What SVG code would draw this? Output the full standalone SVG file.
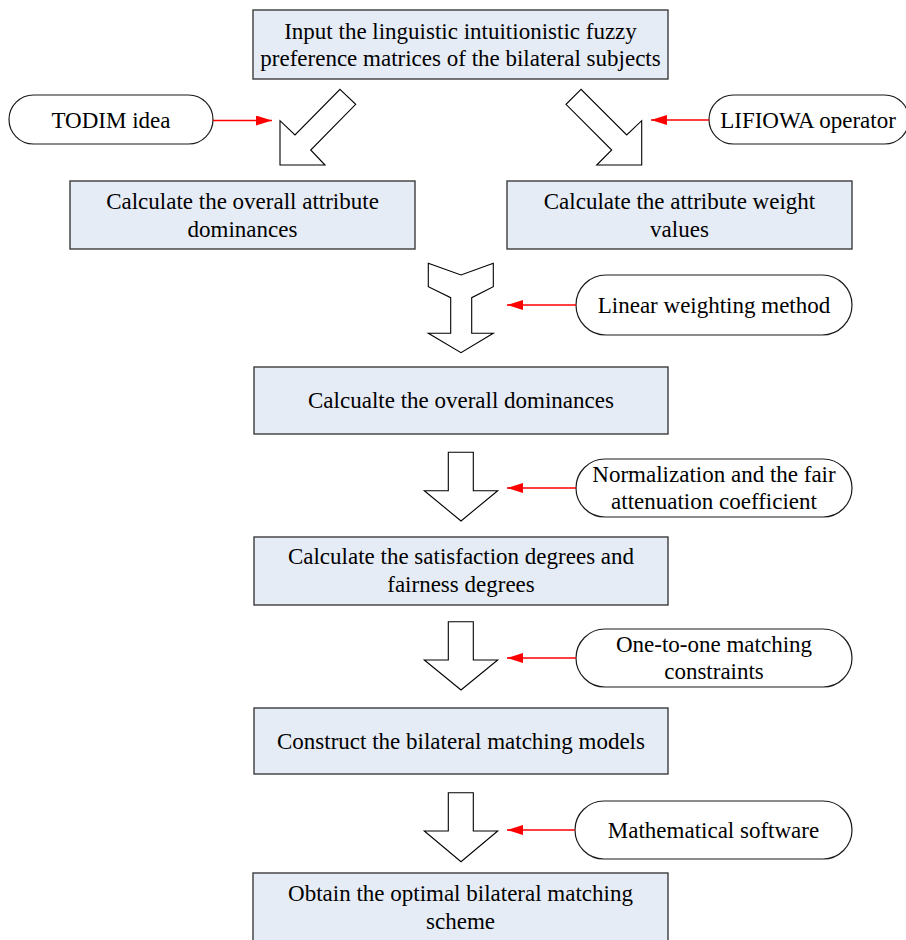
<svg xmlns="http://www.w3.org/2000/svg" width="906" height="940" viewBox="0 0 906 940">
<defs>
<marker id="rh" markerUnits="userSpaceOnUse" markerWidth="16" markerHeight="10" refX="16" refY="5" orient="auto">
<path d="M0,0 L16,5 L0,10 Z" fill="#FF0000"/>
</marker>
<style>
.box{fill:#E6ECF6;stroke:#3C3C3C;stroke-width:1.4}
.pill{fill:#FFFFFF;stroke:#1A1A1A;stroke-width:1.2}
.blk{fill:#FFFFFF;stroke:#000000;stroke-width:1.1;stroke-linejoin:miter}
.red{stroke:#FF0000;stroke-width:1.3;fill:none}
text{font-family:"Liberation Serif","Times New Roman",serif;font-size:23px;fill:#000;text-anchor:middle}
</style>
</defs>
<rect width="906" height="940" fill="#FFFFFF"/>

<g id="n_input">
<rect class="box" x="253" y="10" width="415" height="69"/>
<text x="460.5" y="39">Input the linguistic intuitionistic fuzzy</text>
<text x="460.5" y="66">preference matrices of the bilateral subjects</text>
</g>

<g id="n_todim">
<rect class="pill" x="9" y="95" width="204" height="49" rx="24.5" ry="24.5"/>
<text x="111" y="128">TODIM idea</text>
</g>

<g id="n_lifiowa">
<rect class="pill" x="709" y="95" width="200" height="49" rx="24.5" ry="24.5"/>
<text x="808" y="128">LIFIOWA operator</text>
</g>

<g id="n_attrdom">
<rect class="box" x="70" y="181" width="345" height="68"/>
<text x="242.5" y="209">Calculate the overall attribute</text>
<text x="242.5" y="237">dominances</text>
</g>

<g id="n_weight">
<rect class="box" x="507" y="181" width="345" height="68"/>
<text x="679.5" y="209">Calculate the attribute weight</text>
<text x="679.5" y="237">values</text>
</g>

<g id="n_linear">
<rect class="pill" x="576" y="275" width="276" height="60" rx="30" ry="30"/>
<text x="714" y="313">Linear weighting method</text>
</g>

<g id="n_overall">
<rect class="box" x="254" y="367" width="414" height="67"/>
<text x="461" y="408">Calcualte the overall dominances</text>
</g>

<g id="n_norm">
<rect class="pill" x="576" y="459" width="276" height="58" rx="29" ry="29"/>
<text x="714" y="482">Normalization and the fair</text>
<text x="714" y="509">attenuation coefficient</text>
</g>

<g id="n_satis">
<rect class="box" x="254" y="537" width="414" height="68"/>
<text x="461" y="564">Calculate the satisfaction degrees and</text>
<text x="461" y="592">fairness degrees</text>
</g>

<g id="n_onetoone">
<rect class="pill" x="576" y="629" width="276" height="58" rx="29" ry="29"/>
<text x="714" y="652">One-to-one matching</text>
<text x="714" y="679">constraints</text>
</g>

<g id="n_construct">
<rect class="box" x="254" y="708" width="414" height="66"/>
<text x="461" y="749">Construct the bilateral matching models</text>
</g>

<g id="n_math">
<rect class="pill" x="575" y="801" width="277" height="58" rx="29" ry="29"/>
<text x="713.5" y="838">Mathematical software</text>
</g>

<g id="n_obtain">
<rect class="box" x="253" y="873" width="415" height="72"/>
<text x="460.5" y="901">Obtain the optimal bilateral matching</text>
<text x="460.5" y="929">scheme</text>
</g>

<g id="connectors">
<polygon class="blk" points="340,89.3 355.7,104.3 310.7,150 325,165 280,165 280,120.7 295,135"/>
<polygon class="blk" points="581,89.3 566,104.3 611.7,150 596.7,165 641.7,165 641.7,120.7 626.7,135"/>
<polygon class="blk" points="428.3,263.3 461,275 493.3,263.3 493.3,286.7 471.7,297.7 471.7,333.3 493.3,333.3 461,352.7 428.3,333.3 450.7,333.3 450.7,297.7 428.3,286.7"/>
<polygon class="blk" points="448.3,452.3 473.3,452.3 473.3,490.7 497.7,490.7 461,521 424.3,490.7 448.3,490.7"/>
<polygon class="blk" points="448.3,621.7 473.3,621.7 473.3,660 497.7,660 461,690 424.3,660 448.3,660"/>
<polygon class="blk" points="448.3,792.7 473.3,792.7 473.3,831 497.7,831 461,861.7 424.3,831 448.3,831"/>
<line class="red" x1="213" y1="120.5" x2="272" y2="120.5" marker-end="url(#rh)"/>
<line class="red" x1="709" y1="120" x2="651" y2="120" marker-end="url(#rh)"/>
<line class="red" x1="576" y1="305" x2="507" y2="305" marker-end="url(#rh)"/>
<line class="red" x1="576" y1="488" x2="507" y2="488" marker-end="url(#rh)"/>
<line class="red" x1="576" y1="658" x2="507" y2="658" marker-end="url(#rh)"/>
<line class="red" x1="575" y1="830" x2="507" y2="830" marker-end="url(#rh)"/>
</g>
</svg>
